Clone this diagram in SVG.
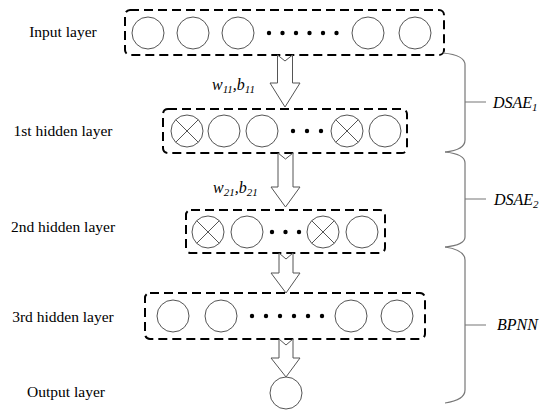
<svg xmlns="http://www.w3.org/2000/svg" width="550" height="416" viewBox="0 0 550 416">
<style>
text{font-family:'Liberation Serif','Times New Roman','DejaVu Serif',serif}
.lbl{font-size:15.5px;fill:#000;text-anchor:middle}
.it{font-style:italic;font-size:16px;fill:#000}
.box{fill:none;stroke:#000;stroke-width:2;stroke-dasharray:9,5}
.n{fill:#fff;stroke:#555;stroke-width:1}
.x{stroke:#555;stroke-width:1}
.dot{fill:#000}
.arr{fill:#fff;stroke:#555;stroke-width:1}
.br{fill:none;stroke:#777;stroke-width:1.2}
</style>
<rect width="550" height="416" fill="#fff"/>
<g id="labels" font-family="Liberation Serif, serif">
<text class="lbl" x="63" y="37">Input layer</text>
<text class="lbl" x="63" y="136">1st hidden layer</text>
<text class="lbl" x="63" y="232">2nd hidden layer</text>
<text class="lbl" x="63" y="322">3rd hidden layer</text>
<text class="lbl" x="66" y="397">Output layer</text>
</g>
<g id="input-layer">
<rect class="box" x="125" y="10" width="319" height="45" rx="5"/>
<circle class="n" cx="148" cy="33" r="16"/>
<circle class="n" cx="193" cy="33" r="16"/>
<circle class="n" cx="238" cy="33" r="16"/>
<circle class="n" cx="368" cy="33" r="16"/>
<circle class="n" cx="415" cy="33" r="16"/>
<g class="dot"><circle cx="269" cy="33" r="2.2"/><circle cx="282.5" cy="33" r="2.2"/><circle cx="296" cy="33" r="2.2"/><circle cx="309.5" cy="33" r="2.2"/><circle cx="323" cy="33" r="2.2"/><circle cx="336.5" cy="33" r="2.2"/></g>
</g>
<g id="hidden1">
<rect class="box" x="163" y="109" width="244" height="44" rx="5"/>
<circle class="n" cx="187" cy="131" r="16"/>
<path class="x" d="M175.7,119.7L198.3,142.3M198.3,119.7L175.7,142.3"/>
<circle class="n" cx="224" cy="131" r="16"/>
<circle class="n" cx="262" cy="131" r="16"/>
<circle class="n" cx="347" cy="131" r="16"/>
<path class="x" d="M335.7,119.7L358.3,142.3M358.3,119.7L335.7,142.3"/>
<circle class="n" cx="385" cy="131" r="16"/>
<g class="dot"><circle cx="293" cy="131" r="2.2"/><circle cx="307" cy="131" r="2.2"/><circle cx="321" cy="131" r="2.2"/></g>
</g>
<g id="hidden2">
<rect class="box" x="186" y="210" width="199" height="43" rx="5"/>
<circle class="n" cx="208" cy="232" r="16"/>
<path class="x" d="M196.7,220.7L219.3,243.3M219.3,220.7L196.7,243.3"/>
<circle class="n" cx="247" cy="232" r="16"/>
<circle class="n" cx="323" cy="232" r="16"/>
<path class="x" d="M311.7,220.7L334.3,243.3M334.3,220.7L311.7,243.3"/>
<circle class="n" cx="362" cy="232" r="16"/>
<g class="dot"><circle cx="272" cy="232" r="2.2"/><circle cx="285.5" cy="232" r="2.2"/><circle cx="299" cy="232" r="2.2"/></g>
</g>
<g id="hidden3">
<rect class="box" x="145" y="293" width="280" height="46" rx="5"/>
<circle class="n" cx="173" cy="316" r="16"/>
<circle class="n" cx="221" cy="316" r="16"/>
<circle class="n" cx="351" cy="316" r="16"/>
<circle class="n" cx="397" cy="316" r="16"/>
<g class="dot"><circle cx="252" cy="316" r="2.2"/><circle cx="266" cy="316" r="2.2"/><circle cx="280" cy="316" r="2.2"/><circle cx="294" cy="316" r="2.2"/><circle cx="308" cy="316" r="2.2"/><circle cx="322" cy="316" r="2.2"/></g>
</g>
<g id="output">
<circle class="n" cx="286" cy="393" r="16"/>
</g>
<g id="connectors">
<path class="arr" d="M277.5,55L285,61L292.5,55L292.5,83L300,83L285,107L270,83L277.5,83Z"/>
<path class="arr" d="M278,153L285.5,159L293,153L293,187L300,187L285.5,207L271,187L278,187Z"/>
<path class="arr" d="M279,253L286,259L293,253L293,273L300,273L286,293L271,273L279,273Z"/>
<path class="arr" d="M279,339L286,345L293,339L293,358L300,358L286,377L271,358L279,358Z"/>
<text class="it" x="212" y="90">w<tspan font-size="11" dy="3">11</tspan><tspan dy="-3">,b</tspan><tspan font-size="11" dy="3">11</tspan></text>
<text class="it" x="213" y="193">w<tspan font-size="11" dy="3">21</tspan><tspan dy="-3">,b</tspan><tspan font-size="11" dy="3">21</tspan></text>
</g>
<g id="braces">
<path class="br" d="M443,53Q465,55 465,65L465,140Q465,150 445,152"/>
<path class="br" d="M445,152Q465,154 465,163L465,237Q465,245 445,247"/>
<path class="br" d="M445,247Q465,250 465,260L465,390Q465,400 445,403"/>
<path class="br" d="M465,102H486M465,199H486M465,325H486"/>
<text class="it" x="493" y="108">DSAE<tspan font-size="11" dy="3">1</tspan></text>
<text class="it" x="494" y="205">DSAE<tspan font-size="11" dy="3">2</tspan></text>
<text class="it" x="497" y="330">BPNN</text>
</g>
</svg>
